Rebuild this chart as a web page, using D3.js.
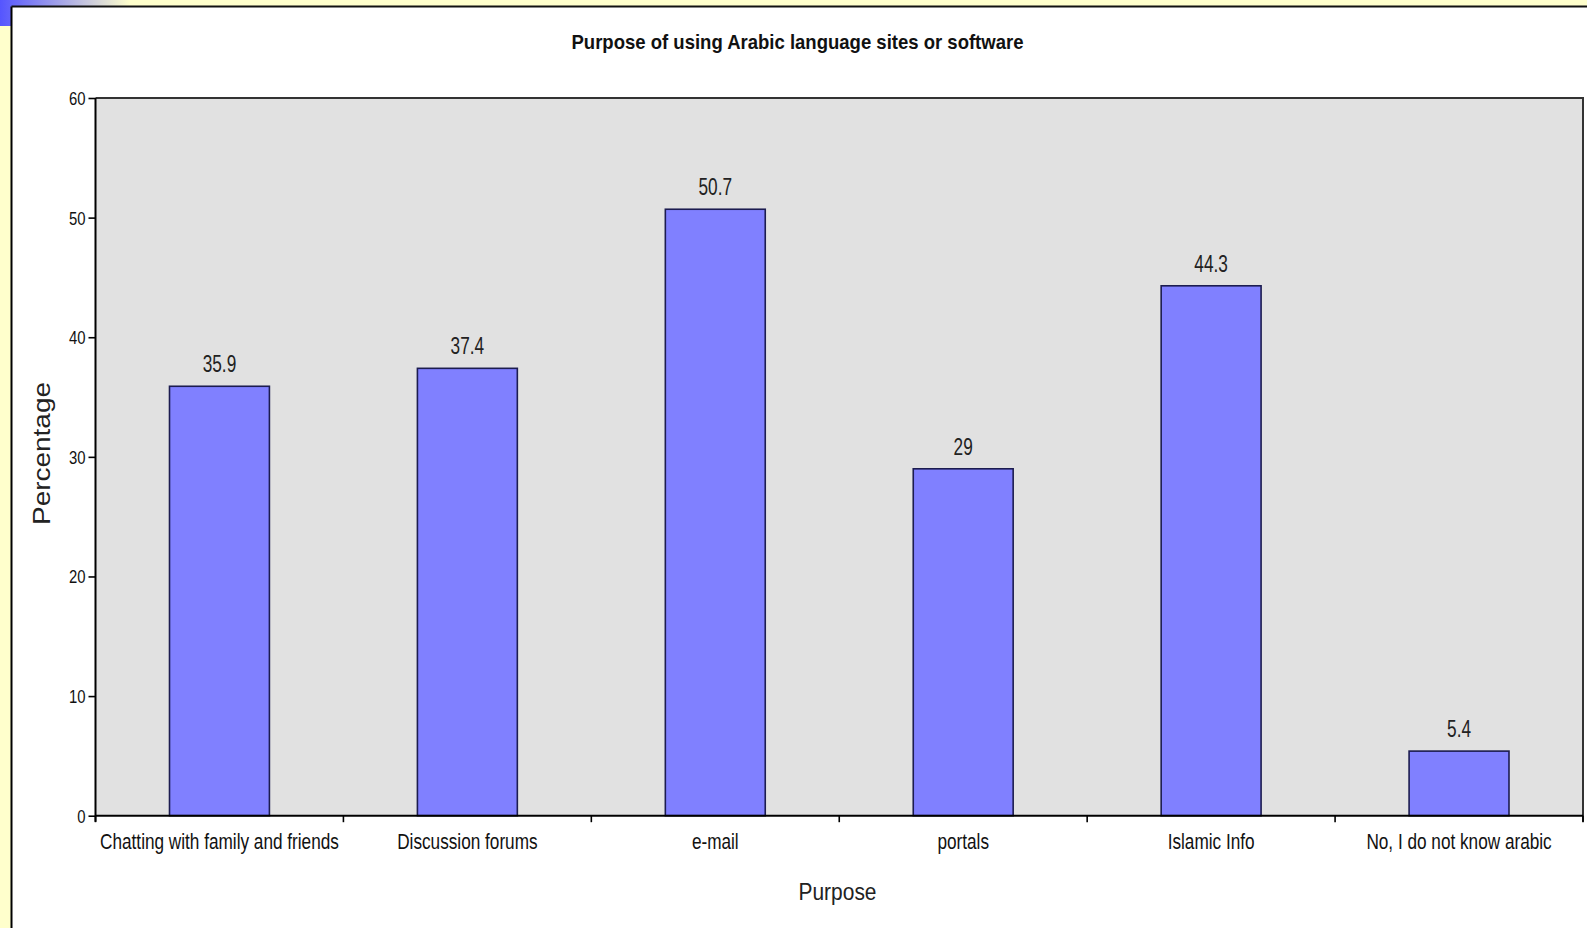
<!DOCTYPE html>
<html>
<head>
<meta charset="utf-8">
<script src="https://cdn.jsdelivr.net/npm/d3@7"></script>
<style>
  html, body { margin: 0; padding: 0; background: #FFFFCC; }
  svg { display: block; }
  text { font-family: "Liberation Sans", Arial, sans-serif; fill: #111; }
</style>
</head>
<body>
<svg id="chart" width="1587" height="928"></svg>
<script>
// ---- data ----
const categories = ["Chatting with family and friends", "Discussion forums", "e-mail", "portals", "Islamic Info", "No, I do not know arabic"];
const percentages = [35.9, 37.4, 50.7, 29, 44.3, 5.4];
const valueLabels = ["35.9", "37.4", "50.7", "29", "44.3", "5.4"];
const yTicks = [0, 10, 20, 30, 40, 50, 60];
const titleText = "Purpose of using Arabic language sites or software";
const xTitle = "Purpose";
const yTitle = "Percentage";

// ---- layout ----
const W = 1587, H = 928;
const L = 95.5, R = 1583, T = 98, B = 815.7;

const svg = d3.select("#chart");

// background decoration
const defs = svg.append("defs");
const grad = defs.append("linearGradient").attr("id", "cornerGrad").attr("x1", "0").attr("x2", "1").attr("y1", "0").attr("y2", "0");
grad.append("stop").attr("offset", "0").attr("stop-color", "#5555FF");
grad.append("stop").attr("offset", "1").attr("stop-color", "#FFFFCC");
svg.append("rect").attr("x", 0).attr("y", 0).attr("width", W).attr("height", H).attr("fill", "#FFFFCC");
svg.append("rect").attr("x", 0).attr("y", 0).attr("width", 130).attr("height", 26).attr("fill", "url(#cornerGrad)");

// white panel
svg.append("rect").attr("x", 11.5).attr("y", 6.5).attr("width", W).attr("height", H).attr("fill", "#FFFFFF");
svg.append("line").attr("x1", 11.5).attr("x2", 11.5).attr("y1", 6.5).attr("y2", H).attr("stroke", "#000").attr("stroke-width", 2);
svg.append("line").attr("x1", 11.5).attr("x2", W).attr("y1", 6.5).attr("y2", 6.5).attr("stroke", "#111").attr("stroke-width", 2);

// scales
const y = d3.scaleLinear().domain([0, 60]).range([B, T]);
const xBars = d3.scaleBand().domain(categories).range([L, R]).paddingInner(0.597).paddingOuter(0.2985);
const xCells = d3.scaleBand().domain(categories).range([L, R]).padding(0);

// plot background
svg.append("rect").attr("x", L).attr("y", T).attr("width", R - L).attr("height", B - T).attr("fill", "#E1E1E1");
// top and right border
svg.append("path").attr("d", `M${L},${T}H${R}V${B + 6}`).attr("fill", "none").attr("stroke", "#333").attr("stroke-width", 2);

// bars
svg.append("g").selectAll("rect").data(categories).join("rect")
  .attr("x", d => xBars(d))
  .attr("y", (d, i) => y(percentages[i]))
  .attr("width", xBars.bandwidth())
  .attr("height", (d, i) => B - y(percentages[i]))
  .attr("fill", "#8080FF")
  .attr("stroke", "#1C1C50")
  .attr("stroke-width", 1.6);

// value labels
svg.append("g").selectAll("text").data(categories).join("text")
  .attr("transform", (d, i) => `translate(${xBars(d) + xBars.bandwidth() / 2},${y(percentages[i]) - 14}) scale(0.75,1)`)
  .attr("text-anchor", "middle")
  .style("font-size", "23px")
  .style("fill", "#222")
  .text((d, i) => valueLabels[i]);

// y axis
const yAxis = d3.axisLeft(y).tickValues(yTicks).tickSize(7).tickPadding(3).tickFormat(d3.format("d"));
const gy = svg.append("g").attr("transform", `translate(${L},0)`).call(yAxis);
gy.select(".domain").attr("stroke", "#000").attr("stroke-width", 2).attr("d", `M0,${T}V${B + 6}`);
gy.selectAll(".tick line").attr("stroke", "#000").attr("stroke-width", 1.6);
gy.selectAll(".tick text")
  .attr("x", null).attr("dy", null)
  .attr("transform", "translate(-10,6.5) scale(0.85,1)")
  .attr("fill", "#222")
  .style("font-family", "'Liberation Sans', Arial, sans-serif")
  .style("font-size", "17.5px");

// x axis (labels centered in cells, ticks at cell boundaries)
const xAxis = d3.axisBottom(xCells).tickSize(0).tickPadding(0);
const gx = svg.append("g").attr("transform", `translate(0,${B})`).call(xAxis);
gx.select(".domain").attr("stroke", "#000").attr("stroke-width", 2).attr("d", `M${L},0H${R}`);
gx.selectAll(".tick text")
  .attr("y", null).attr("dy", null)
  .attr("transform", "translate(0,33) scale(0.8,1)")
  .attr("fill", "#222")
  .style("font-family", "'Liberation Sans', Arial, sans-serif")
  .style("font-size", "21.5px");
const boundaries = categories.map(c => xCells(c)).concat([R]);
svg.append("g").selectAll("line").data(boundaries).join("line")
  .attr("x1", d => d).attr("x2", d => d)
  .attr("y1", B).attr("y2", B + 6.5)
  .attr("stroke", "#000").attr("stroke-width", 1.6);

// title
svg.append("text")
  .attr("x", 797.5).attr("y", 49)
  .attr("text-anchor", "middle")
  .style("font-size", "20.5px").style("font-weight", "bold")
  .attr("textLength", 452).attr("lengthAdjust", "spacingAndGlyphs")
  .text(titleText);

// axis titles
svg.append("text")
  .attr("x", 837.5).attr("y", 899.5)
  .attr("text-anchor", "middle")
  .style("font-size", "23px")
  .style("fill", "#222")
  .attr("textLength", 78).attr("lengthAdjust", "spacingAndGlyphs")
  .text(xTitle);

svg.append("text")
  .attr("transform", "translate(50,453.5) rotate(-90)")
  .attr("text-anchor", "middle")
  .style("font-size", "23px")
  .style("fill", "#222")
  .attr("textLength", 143).attr("lengthAdjust", "spacingAndGlyphs")
  .text(yTitle);
</script>
</body>
</html>
